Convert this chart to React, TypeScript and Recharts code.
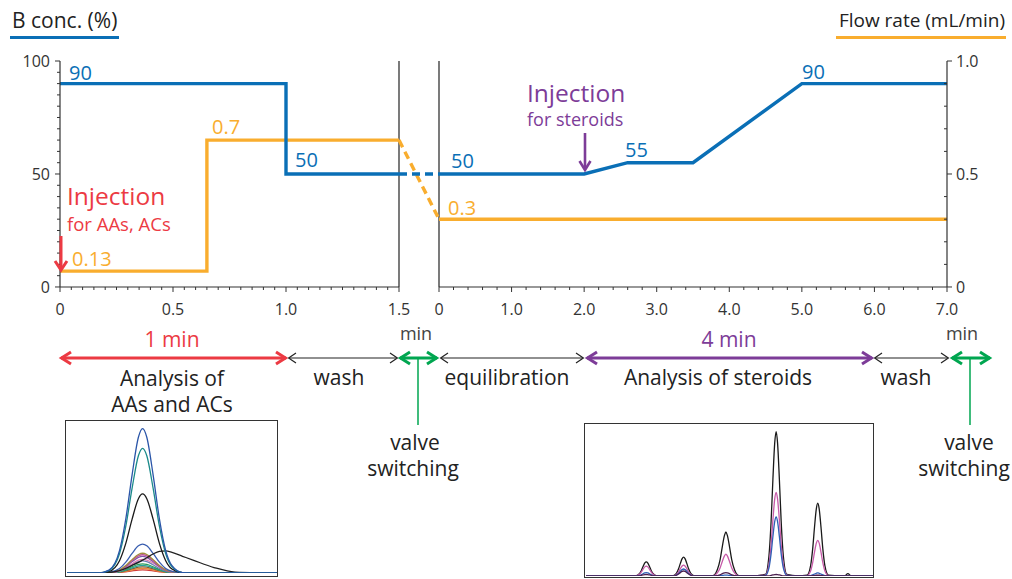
import React from 'react';
import { ComposedChart, LineChart, Line, XAxis, YAxis, ReferenceLine } from 'recharts';

const FONT = "'Open Sans', 'Noto Sans', sans-serif";
const BLUE = '#0a6fb6';
const ORANGE = '#f9ad2e';
const RED = '#ec3a43';
const PURPLE = '#7d3c98';
const GREEN = '#00a650';
const INK = '#222';

// ---- Left panel: analysis of AAs / ACs (time in min) ----
const aaTime = [0, 1.0, 1.0, 1.5];
const aaBConc = [90, 90, 50, 50];
const aaFlowTime = [0, 0.65, 0.65, 1.5];
const aaFlow = [0.07, 0.07, 0.65, 0.65];
// ---- Valve switching gap (start -> end) ----
const gapPos = [0, 1];
const gapBConc = [50, 50];
const gapFlow = [0.65, 0.3];
// ---- Right panel: analysis of steroids (time in min) ----
const stTime = [0, 2.0, 2.6, 3.5, 5.0, 7.0];
const stBConc = [50, 50, 55, 55, 90, 90];
const stFlowTime = [0, 7.0];
const stFlow = [0.3, 0.3];

// ---- Tick labels ----
const aaXMajor = [0, 0.5, 1.0, 1.5];
const stXMajor = [0, 1, 2, 3, 4, 5, 6, 7];
const bMajor = [0, 50, 100];
const flowMajor = [0, 0.5, 1.0];

const seq = (a: number, b: number, s: number) => {
  const out: number[] = [];
  for (let i = 0; a + i * s <= b + 1e-9; i++) out.push(Math.round((a + i * s) * 1000) / 1000);
  return out;
};
const aaXTicks = seq(0, 1.5, 0.05);
const stXTicks = seq(0, 7, 0.2);
const bTicks = seq(0, 100, 5);
const flowTicks = seq(0, 1, 0.1);

// ---- Inset 1: AAs / ACs chromatogram traces ----
const aaGrid = [0, 0.15, 0.2, 0.25, 0.28, 0.31, 0.34, 0.36, 0.38, 0.41, 0.44, 0.47, 0.5, 0.55, 0.6, 0.7, 0.8, 1.0];
const aaTraceBlue = [0, 0, 1.9, 14.7, 35.6, 64.6, 89.3, 95, 89.3, 64.6, 35.6, 14.7, 4.8, 0.3, 0, 0, 0, 0];
const aaTraceTeal = [0, 0, 1.6, 12.7, 30.8, 55.8, 77.1, 82, 77.1, 55.8, 30.8, 12.7, 4.1, 0.2, 0, 0, 0, 0];
const aaTraceBlack = [0, 0, 1, 8.1, 19.5, 35.4, 48.9, 52, 48.9, 35.4, 19.5, 8.1, 2.6, 0.2, 0, 0, 0, 0];
const aaTraceBlue2 = [0, 0, 0.4, 2.9, 7.1, 12.9, 17.9, 19, 17.9, 12.9, 7.1, 2.9, 1, 0.1, 0, 0, 0, 0];
const aaTraceBroad = [0, 0, 0.3, 1.5, 3, 5, 7, 8.5, 10, 12.5, 14.2, 14.5, 13.5, 11, 8.5, 3.6, 0.6, 0];
const aaTraceOlive = [0, 0, 0.3, 2, 4.9, 8.8, 12.2, 13, 12.2, 8.8, 4.9, 2, 0.7, 0, 0, 0, 0, 0];
const aaTraceMagenta = [0, 0, 0.2, 1.9, 4.5, 8.2, 11.3, 12, 11.3, 8.2, 4.5, 1.9, 0.6, 0.2, 0, 0, 0, 0];
const aaTracePurple = [0, 0, 0.2, 1.7, 4.1, 7.5, 10.3, 11, 10.3, 7.5, 4.1, 1.7, 0.6, 0, 0, 0, 0, 0];
const aaTracePink = [0, 0, 0.2, 1.4, 3.4, 6.1, 8.5, 9, 8.5, 6.6, 4.2, 2.2, 1, 0.3, 0, 0, 0, 0];
const aaTraceSlate = [0, 0, 0.2, 1.2, 3, 5.4, 7.5, 8, 7.5, 5.4, 3, 1.2, 0.4, 0, 0, 0, 0, 0];
const aaTraceGreen = [0, 0, 0.1, 0.9, 2.3, 4.1, 5.6, 6, 5.6, 4.1, 2.3, 0.9, 0.3, 0, 0, 0, 0, 0];
const aaTraceTeal2 = [0, 0, 0.1, 0.8, 1.9, 3.4, 4.7, 5, 4.7, 3.4, 1.9, 0.8, 0.3, 0, 0, 0, 0, 0];
const aaTraceBrown = [0, 0, 0.1, 0.6, 1.5, 2.7, 3.8, 4, 3.8, 2.7, 1.5, 0.6, 0.2, 0, 0, 0, 0, 0];
const aaTraceOrange = [0, 0, 0.1, 0.5, 1.1, 2, 2.8, 3, 2.8, 2, 1.1, 0.5, 0.2, 0, 0, 0, 0, 0];
const aaTraceRed = [0, 0, 0, 0.3, 0.8, 1.4, 1.9, 2, 1.9, 1.4, 0.8, 0.3, 0.1, 0, 0, 0, 0, 0];

// ---- Inset 2: steroid chromatogram traces (time 2-6 min) ----
const stGrid = [
  2.0, 2.5,
  2.69, 2.74, 2.77, 2.795, 2.82, 2.84, 2.86, 2.885, 2.91, 2.94, 2.99,
  3.1,
  3.21, 3.26, 3.29, 3.315, 3.34, 3.36, 3.38, 3.405, 3.43, 3.46, 3.51,
  3.65,
  3.77, 3.83, 3.87, 3.9, 3.93, 3.95, 3.97, 4.0, 4.03, 4.07, 4.13,
  4.3,
  4.5, 4.55, 4.58, 4.605, 4.63, 4.65, 4.67, 4.695, 4.72, 4.75, 4.8,
  4.95,
  5.08, 5.13, 5.16, 5.185, 5.21, 5.23, 5.25, 5.275, 5.3, 5.33, 5.38,
  5.55, 5.6, 5.65, 5.7, 5.8, 6.0,
];
const stTraceBlack = [
  0, 0,
  0.1, 1.3, 3.5, 6.2, 8.6, 9.3, 8.6, 6.2, 3.5, 1.3, 0.1,
  0,
  0.1, 1.7, 4.7, 8.3, 11.4, 12.4, 11.4, 8.3, 4.7, 1.7, 0.1,
  0,
  0.3, 4.1, 11, 19.4, 26.7, 29, 26.7, 19.4, 11, 4.1, 0.3,
  0,
  1, 13.3, 36.1, 63.7, 87.4, 95, 87.4, 63.7, 36.1, 13.3, 1,
  0,
  0.5, 6.7, 18.2, 32.2, 44.2, 48, 44.2, 32.2, 18.2, 6.7, 0.5,
  0, 0, 1.5, 0, 0, 0,
];
const stTracePink = [
  0, 0,
  0.1, 0.9, 2.5, 4.4, 6, 6.5, 6, 4.4, 2.5, 0.9, 0.1,
  0,
  0.1, 1, 2.7, 4.8, 6.6, 7.2, 6.6, 4.8, 2.7, 1, 0.1,
  0,
  0.1, 2, 5.5, 9.6, 13.2, 14.4, 13.2, 9.6, 5.5, 2, 0.1,
  0,
  0.6, 7.7, 20.9, 36.9, 50.6, 55, 50.6, 36.9, 20.9, 7.7, 0.6,
  0,
  0.2, 3.3, 8.9, 15.7, 21.6, 23.5, 21.6, 15.7, 8.9, 3.3, 0.2,
  0, 0, 0, 0, 0, 0,
];
const stTraceBlue = [
  0, 0,
  0, 0.3, 0.8, 1.5, 2, 2.2, 2, 1.5, 0.8, 0.3, 0,
  0,
  0, 0.6, 1.7, 3.1, 4.2, 4.6, 4.2, 3.1, 1.7, 0.6, 0,
  0,
  0, 0.1, 0.2, 0.4, 0.6, 0.6, 0.6, 0.4, 0.2, 0.1, 0,
  0,
  0.4, 5.4, 14.7, 26, 35.7, 38.8, 35.7, 26, 14.7, 5.4, 0.4,
  0,
  0, 0.3, 0.8, 1.3, 1.8, 2, 1.8, 1.3, 0.8, 0.3, 0,
  0, 0, 0, 0, 0, 0,
];
const stTraceDark = [
  0, 0,
  0, 0.1, 0.4, 0.7, 0.9, 1, 0.9, 0.7, 0.4, 0.1, 0,
  0,
  0, 0.5, 1.3, 2.2, 3, 3.3, 3, 2.2, 1.3, 0.5, 0,
  0,
  0, 0.3, 0.8, 1.5, 2, 2.2, 2, 1.5, 0.8, 0.3, 0,
  0,
  0, 0.1, 0.4, 0.7, 0.9, 1, 0.9, 0.7, 0.4, 0.1, 0,
  0,
  0, 0.1, 0.2, 0.3, 0.5, 0.5, 0.5, 0.3, 0.2, 0.1, 0,
  0, 0, 0, 0, 0, 0,
];

const pts = (xs: number[], ys: number[]) => xs.map((t, i) => ({ t, v: ys[i] }));

const near = (arr: number[], v: number) => arr.some((m) => Math.abs(m - v) < 1e-6);
const fmtX = (v: number) => (v === 0 ? '0' : v.toFixed(1));

const makeXTick = (majors: number[]) => (p: any) => {
  const { x, y, payload } = p;
  const v = payload.value;
  const major = near(majors, v);
  return (
    <g>
      <line x1={x} x2={x} y1={y} y2={y + (major ? 5 : 3)} stroke="#333" strokeWidth={1} />
      {major && (
        <text x={x} y={y + 22} textAnchor="middle" dominantBaseline="central" fontSize={16} fill="#333" fontFamily={FONT}>
          {fmtX(v)}
        </text>
      )}
    </g>
  );
};

const BTick = (p: any) => {
  const { x, y, payload } = p;
  const v = payload.value;
  const major = near(bMajor, v);
  return (
    <g>
      <line x1={x - (major ? 5 : 3)} x2={x} y1={y} y2={y} stroke="#333" strokeWidth={1} />
      {major && (
        <text x={x - 10} y={y} textAnchor="end" dominantBaseline="central" fontSize={16} fill="#333" fontFamily={FONT}>
          {String(v)}
        </text>
      )}
    </g>
  );
};

const FlowTick = (p: any) => {
  const { x, y, payload } = p;
  const v = payload.value;
  const major = near(flowMajor, v);
  return (
    <g>
      {major ? (
        <line x1={x} x2={x + 5} y1={y} y2={y} stroke="#333" strokeWidth={1} />
      ) : (
        <line x1={x - 3} x2={x} y1={y} y2={y} stroke="#333" strokeWidth={1} />
      )}
      {major && (
        <text x={x + 9} y={y} textAnchor="start" dominantBaseline="central" fontSize={16} fill="#333" fontFamily={FONT}>
          {v === 0 ? '0' : v.toFixed(1)}
        </text>
      )}
    </g>
  );
};

const HArrow = ({ x1, x2, y, color, sw, hl, hw }: any) => (
  <g stroke={color} strokeWidth={sw} fill="none" strokeLinejoin="miter" strokeLinecap="butt">
    <line x1={x1 + 1} x2={x2 - 1} y1={y} y2={y} />
    <polyline points={`${x1 + hl},${y - hw} ${x1 + sw / 2},${y} ${x1 + hl},${y + hw}`} />
    <polyline points={`${x2 - hl},${y - hw} ${x2 - sw / 2},${y} ${x2 - hl},${y + hw}`} />
  </g>
);

const T = ({ x, y, size = 21, color = INK, anchor = 'middle', children }: any) => (
  <text x={x} y={y} fontSize={size} fill={color} textAnchor={anchor} dominantBaseline="central" fontFamily={FONT}>
    {children}
  </text>
);

const lineProps = { dot: false, activeDot: false, isAnimationActive: false, type: 'linear' as const, dataKey: 'v' };

export default function App() {
  const aaTraces: [number[], string][] = [
    [aaTraceRed, '#d13a3a'],
    [aaTraceOrange, '#e8893a'],
    [aaTraceBrown, '#8b5a2b'],
    [aaTraceTeal2, '#25a39c'],
    [aaTraceGreen, '#2e9e5a'],
    [aaTraceSlate, '#6a7fb5'],
    [aaTracePink, '#e07ab0'],
    [aaTracePurple, '#7e57a6'],
    [aaTraceMagenta, '#c0509e'],
    [aaTraceOlive, '#a08c3c'],
    [aaTraceBlue2, '#3a5fb0'],
    [aaTraceBroad, '#222'],
    [aaTraceBlack, '#1a1a1a'],
    [aaTraceTeal, '#1b8a8a'],
    [aaTraceBlue, '#2a55a8'],
  ];
  const stTraces: [number[], string][] = [
    [stTraceBlack, '#1a1a1a'],
    [stTracePink, '#c65aa8'],
    [stTraceBlue, '#2f5fb5'],
    [stTraceDark, '#4a2050'],
  ];

  return (
    <div style={{ position: 'absolute', left: 0, top: 0, width: 1012, height: 579, overflow: 'hidden', background: '#fff', fontFamily: FONT }}>
      <div style={{ position: 'absolute', left: 0, top: 0 }}>
        <ComposedChart width={1012} height={340} margin={{ top: 61, left: 20, right: 15, bottom: 53 }}>
          <XAxis xAxisId="L" type="number" dataKey="t" domain={[0, 1.5]} ticks={aaXTicks} interval={0}
            padding={{ left: 0, right: 548 }} height={0.01} axisLine={false} tickLine={false} tickSize={0} tickMargin={0}
            tick={makeXTick(aaXMajor)} allowDataOverflow />
          <XAxis xAxisId="R" type="number" dataKey="t" domain={[0, 7]} ticks={stXTicks} interval={0}
            padding={{ left: 379, right: 0 }} height={0.01} axisLine={false} tickLine={false} tickSize={0} tickMargin={0}
            tick={makeXTick(stXMajor)} allowDataOverflow />
          <XAxis xAxisId="G" type="number" dataKey="t" domain={[0, 1]} padding={{ left: 339, right: 508 }} hide height={0.01} />
          <YAxis yAxisId="B" orientation="left" width={40} domain={[0, 100]} ticks={bTicks} interval={0}
            axisLine={{ stroke: '#333', strokeWidth: 1.2 }} tickLine={false} tickSize={0} tickMargin={0} tick={BTick} />
          <YAxis yAxisId="F" orientation="right" width={50} domain={[0, 1]} ticks={flowTicks} interval={0}
            axisLine={{ stroke: '#333', strokeWidth: 1.2 }} tickLine={false} tickSize={0} tickMargin={0} tick={FlowTick} />

          <ReferenceLine xAxisId="L" yAxisId="B" segment={[{ x: 0, y: 0 }, { x: 1.5, y: 0 }]} stroke="#333" strokeWidth={1.2} />
          <ReferenceLine xAxisId="L" yAxisId="B" segment={[{ x: 1.5, y: 0 }, { x: 1.5, y: 100 }]} stroke="#222" strokeWidth={1.2} />
          <ReferenceLine xAxisId="R" yAxisId="B" segment={[{ x: 0, y: 0 }, { x: 7, y: 0 }]} stroke="#333" strokeWidth={1.2} />
          <ReferenceLine xAxisId="R" yAxisId="B" segment={[{ x: 0, y: 0 }, { x: 0, y: 100 }]} stroke="#222" strokeWidth={1.2} />

          <Line {...lineProps} data={pts(aaFlowTime, aaFlow)} xAxisId="L" yAxisId="F" stroke={ORANGE} strokeWidth={3.4} />
          <Line {...lineProps} data={pts(aaTime, aaBConc)} xAxisId="L" yAxisId="B" stroke={BLUE} strokeWidth={3.4} />
          <Line {...lineProps} data={pts(gapPos, gapFlow)} xAxisId="G" yAxisId="F" stroke={ORANGE} strokeWidth={3.4} strokeDasharray="8 5" />
          <Line {...lineProps} data={pts(gapPos, gapBConc)} xAxisId="G" yAxisId="B" stroke={BLUE} strokeWidth={3.4} strokeDasharray="8 5" />
          <Line {...lineProps} data={pts(stFlowTime, stFlow)} xAxisId="R" yAxisId="F" stroke={ORANGE} strokeWidth={3.4} />
          <Line {...lineProps} data={pts(stTime, stBConc)} xAxisId="R" yAxisId="B" stroke={BLUE} strokeWidth={3.4} />
        </ComposedChart>
      </div>

      {/* Inset 1 */}
      <div style={{ position: 'absolute', left: 65, top: 420, width: 213, height: 157, border: '1.5px solid #333', boxSizing: 'border-box' }} />
      <div style={{ position: 'absolute', left: 66.5, top: 421, width: 210 }}>
        <LineChart width={210} height={156} margin={{ top: 0, left: 0, right: 0, bottom: 4 }}>
          <XAxis type="number" dataKey="t" domain={[0, 1]} hide />
          <YAxis domain={[0, 100]} hide allowDataOverflow />
          {aaTraces.map(([ys, c], i) => (
            <Line key={i} data={pts(aaGrid, ys)} dataKey="v" type="monotone" stroke={c} strokeWidth={1.3} dot={false} activeDot={false} isAnimationActive={false} />
          ))}
        </LineChart>
      </div>

      {/* Inset 2 */}
      <div style={{ position: 'absolute', left: 584, top: 423, width: 290, height: 155, border: '1.5px solid #333', boxSizing: 'border-box' }} />
      <div style={{ position: 'absolute', left: 585.5, top: 424, width: 287 }}>
        <LineChart width={287} height={156} margin={{ top: 0, left: 0, right: 0, bottom: 4 }}>
          <XAxis type="number" dataKey="t" domain={[2, 6]} hide />
          <YAxis domain={[0, 100]} hide allowDataOverflow />
          {stTraces.map(([ys, c], i) => (
            <Line key={i} data={pts(stGrid, ys)} dataKey="v" type="monotone" stroke={c} strokeWidth={1.3} dot={false} activeDot={false} isAnimationActive={false} />
          ))}
        </LineChart>
      </div>

      {/* Annotations */}
      <svg width={1012} height={579} style={{ position: 'absolute', left: 0, top: 0, pointerEvents: 'none' }}>
        <T x={12} y={20} size={21} anchor="start">B conc. (%)</T>
        <rect x={10} y={36} width={109} height={3} fill={BLUE} />
        <T x={1005} y={20} size={19} anchor="end">Flow rate (mL/min)</T>
        <rect x={836} y={36} width={170} height={3} fill={ORANGE} />

        <T x={69} y={72} size={20} color={BLUE} anchor="start">90</T>
        <T x={295} y={159} size={20} color={BLUE} anchor="start">50</T>
        <T x={451} y={160} size={20} color={BLUE} anchor="start">50</T>
        <T x={625} y={149} size={20} color={BLUE} anchor="start">55</T>
        <T x={802} y={71} size={20} color={BLUE} anchor="start">90</T>
        <T x={212} y={126} size={20} color={ORANGE} anchor="start">0.7</T>
        <T x={72} y={258} size={20} color={ORANGE} anchor="start">0.13</T>
        <T x={448} y={207} size={20} color={ORANGE} anchor="start">0.3</T>

        <T x={67} y={195} size={24.5} color={RED} anchor="start">Injection</T>
        <T x={67} y={223} size={18.5} color={RED} anchor="start">for AAs, ACs</T>
        <g stroke={RED} strokeWidth={3} fill="none">
          <line x1={61} y1={236} x2={61} y2={268} />
          <polyline points="55,261 61,270 67,261" />
        </g>
        <T x={527} y={92} size={24.5} color={PURPLE} anchor="start">Injection</T>
        <T x={527} y={119} size={18} color={PURPLE} anchor="start">for steroids</T>
        <g stroke={PURPLE} strokeWidth={2.6} fill="none">
          <line x1={585} y1={133} x2={585} y2={168} />
          <polyline points="579.5,161 585,170 590.5,161" />
        </g>

        <T x={416} y={333} size={18} color="#444">min</T>
        <T x={962} y={333} size={18} color="#444">min</T>

        <HArrow x1={60} x2={287} y={358} color={RED} sw={3} hl={11} hw={6} />
        <HArrow x1={288} x2={398} y={358} color={INK} sw={1.2} hl={8} hw={5} />
        <HArrow x1={399} x2={438} y={358} color={GREEN} sw={3} hl={11} hw={6} />
        <HArrow x1={440} x2={584} y={358} color={INK} sw={1.2} hl={8} hw={5} />
        <HArrow x1={586} x2={873} y={358} color={PURPLE} sw={3} hl={11} hw={6} />
        <HArrow x1={874} x2={949} y={358} color={INK} sw={1.2} hl={8} hw={5} />
        <HArrow x1={951} x2={991} y={358} color={GREEN} sw={3} hl={11} hw={6} />
        <line x1={418} x2={418} y1={359} y2={425} stroke={GREEN} strokeWidth={1.5} />
        <line x1={970} x2={970} y1={359} y2={425} stroke={GREEN} strokeWidth={1.5} />

        <T x={172} y={339} color={RED}>1 min</T>
        <T x={729} y={339} color={PURPLE}>4 min</T>
        <T x={172} y={378}>Analysis of</T>
        <T x={172} y={404}>AAs and ACs</T>
        <T x={339} y={377}>wash</T>
        <T x={507} y={377}>equilibration</T>
        <T x={718} y={377}>Analysis of steroids</T>
        <T x={906} y={377}>wash</T>
        <T x={415} y={442}>valve</T>
        <T x={413} y={468}>switching</T>
        <T x={969} y={442}>valve</T>
        <T x={964} y={468}>switching</T>
      </svg>
    </div>
  );
}
